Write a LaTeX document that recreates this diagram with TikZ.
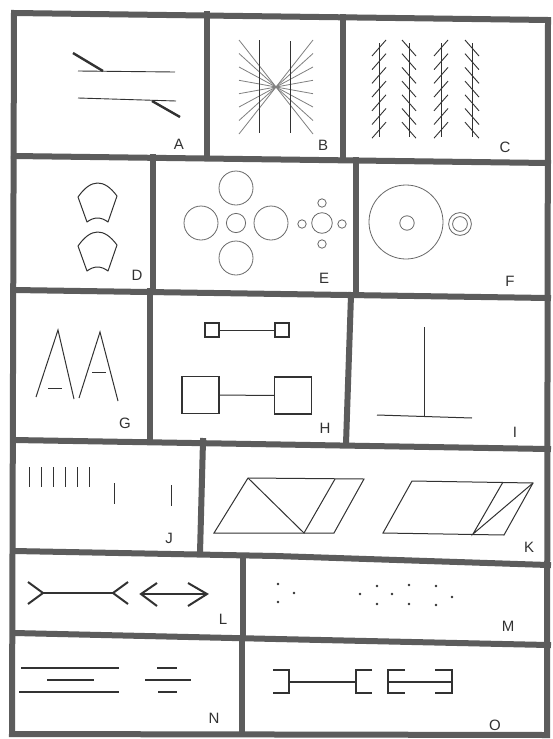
\documentclass[tikz,border=0pt]{standalone}
\usepackage{fontspec}
\setmainfont{Liberation Sans}
\usetikzlibrary{positioning}
\definecolor{FrameGray}{RGB}{92,92,92}
\definecolor{InkGray}{RGB}{50,50,50}
\definecolor{FadeGray}{RGB}{105,105,105}

\tikzset{
  frame/.style={line width=6pt,FrameGray,line cap=rect},
  ink/.style={InkGray,line width=1pt},
  fade/.style={FadeGray,line width=0.8pt},
  heavyink/.style={InkGray,line width=2pt},
  letter/.style={font=\fontsize{15}{15}\selectfont,text=InkGray,inner sep=0pt},
  sqbox/.style={draw=InkGray,line width=1.1pt,inner sep=0pt},
}

\begin{document}
\begin{tikzpicture}[x=1pt,y=-1pt]
      \useasboundingbox (0,0) rectangle (552,739);
      \fill[white] (0,0) rectangle (552,739);
      % frame and rows
      \draw[frame,line join=miter] (14,13) -- (548,20) -- (547,735) -- (12,734) -- cycle;
      \draw[frame] (14,156) -- (548,163);
      \draw[frame] (14,290) -- (548,298);
      \draw[frame] (14,440) -- (548,449);
      \draw[frame] (14,551) -- (276,556) -- (548,565);
      \draw[frame] (14,633) -- (276,639) -- (548,645);
      \draw[frame] (207,14) -- (207,157);
      \draw[frame] (343,17) -- (343,160);
      \draw[frame] (153,157) -- (153,291);
      \draw[frame] (356,160) -- (356,294);
      \draw[frame] (150,291) -- (150,441);
      \draw[frame] (351,295) -- (346,444);
      \draw[frame] (203,441) -- (200,553);
      \draw[frame] (243,556) -- (243,636);
      \draw[frame] (242,638) -- (242,734);
      % A
      \draw[ink,line width=0.9pt] (78,71) -- (175,72);
      \draw[ink,line width=0.9pt] (78,98) -- (176,101);
      \draw[InkGray,line width=2.4pt] (73,53) -- (103,71);
      \draw[InkGray,line width=2.4pt] (152,101) -- (180,117);
      \node[letter] (labA) at (179,144) {A};
      % B
      \foreach \d in {-47,-33.5,-20,-6.7,6.7,20,33.5,47}
        \draw[fade,FadeGray!85] (239,{87+\d}) -- (313,{87-\d});
      \draw[ink] (259,40) -- (259,133);
      \draw[ink] (290,41) -- (290,133);
      \node[letter] (labB) at (323,145) {B};
      % C
      \foreach \cx/\s in {379/1,409/-1,441/1,472/-1}{
        \draw[ink] (\cx,43) -- (\cx,137);
        \foreach \k in {0,...,6}
          \draw[ink,line width=0.9pt] ({\cx-7},{48+13.7*\k+8*\s}) -- ({\cx+7},{48+13.7*\k-8*\s});
      }
      \node[letter] (labC) at (505,147) {C};
      % D
      \foreach \dy in {0,49}
        \draw[ink,line join=round] (78,{197+\dy}) .. controls (91,{178.5+\dy}) and (104,{178.5+\dy}) .. (117,{196+\dy})
          -- (108,{222+\dy}) .. controls (101,{216.7+\dy}) and (94,{216.7+\dy}) .. (87,{222+\dy}) -- cycle;
      \node[letter] (labD) at (137,275) {D};
      % E
      \draw[fade] (236,223) circle (9.6pt);
      \foreach \p in {(236,188),(236,258),(201,223),(271,223)}
        \draw[fade] \p circle (17pt);
      \draw[fade] (322,223) circle (10.3pt);
      \foreach \p in {(302,224),(342,224),(322,203),(322,244)}
        \draw[fade] \p circle (4.2pt);
      \node[letter] (labE) at (324,278) {E};
      % F
      \draw[fade] (406,222) circle (37pt);
      \draw[fade] (407,223) circle (7.2pt);
      \draw[fade] (460,224) circle (11.4pt);
      \draw[fade] (460,224) circle (7.4pt);
      \node[letter] (labF) at (510,281) {F};
      % G
      \draw[ink] (36,397) -- (58,330) -- (74,399);
      \draw[ink] (48,388) -- (62,388);
      \draw[ink] (79,398) -- (100,332) -- (118,401);
      \draw[ink] (92,372) -- (106,372);
      \node[letter] (labG) at (125,423) {G};
      % H
      \node[sqbox,minimum size=14pt] (hsl) at (212,330) {};
      \node[sqbox,minimum size=14pt] (hsr) at (282,330) {};
      \node[sqbox,minimum size=37pt] (hbl) at (200.5,395) {};
      \node[sqbox,minimum size=37pt] (hbr) at (293,395.5) {};
      \draw[ink] (hsl) -- (hsr);
      \draw[ink] (hbl) -- (hbr);
      \node[letter] (labH) at (325,428) {H};
      % I
      \draw[ink] (424,327) -- (424,416);
      \draw[ink] (377,415) -- (472,418);
      \node[letter] (labI) at (515,432) {I};
      % J
      \foreach \x in {29,41,53,65,77,89}
        \draw[ink] (\x,467) -- (\x,487);
      \draw[ink] (114,483) -- (114,504);
      \draw[ink] (171,485) -- (171,506);
      \node[letter] (labJ) at (169,538) {J};
      % K
      \draw[ink,line join=miter] (248,478) -- (364,479) -- (334,533) -- (214,533) -- cycle;
      \draw[ink] (248,478) -- (304,533) -- (335,479);
      \draw[ink,line join=miter] (412,481) -- (533,483) -- (504,535) -- (383,533) -- cycle;
      \draw[ink] (503,482) -- (473,534) -- (533,483);
      \node[letter] (labK) at (529,547) {K};
      % L
      \draw[heavyink] (28,582) -- (43,593) -- (28,604);
      \draw[heavyink] (43,593) -- (113,593);
      \draw[heavyink] (128,582) -- (113,593) -- (128,604);
      \draw[heavyink] (157,583) -- (141,594) -- (157,606);
      \draw[heavyink] (141,594) -- (207,594);
      \draw[heavyink] (188,583) -- (207,594) -- (188,606);
      \node[letter] (labL) at (223,619) {L};
      % M
      \foreach \p in {(278,584),(278,602),(294,593),(360,594),(377,586),(377,604),
                      (392,594),(409,585),(409,604),(436,586),(436,605),(452,597)}
        \fill[InkGray] \p circle (1.3pt);
      \node[letter] (labM) at (508,626) {M};
      % N
      \draw[heavyink] (21,668) -- (119,668);
      \draw[heavyink] (47,680) -- (94,680);
      \draw[heavyink] (19,692) -- (119,692);
      \draw[heavyink] (157,668) -- (177,668);
      \draw[heavyink] (145,680) -- (191,680);
      \draw[heavyink] (158,692) -- (177,692);
      \node[letter] (labN) at (214,718) {N};
      % O
      \draw[ink,line width=1.6pt] (273,670) -- (289,670) -- (289,693) -- (273,693);
      \draw[ink,line width=1.3pt] (289,682) -- (356,682);
      \draw[ink,line width=1.6pt] (372,670) -- (356,670) -- (356,693) -- (372,693);
      \draw[ink,line width=1.6pt] (405,670) -- (388,670) -- (388,693) -- (405,693);
      \draw[ink,line width=1.3pt] (388,682) -- (452,682);
      \draw[ink,line width=1.6pt] (435,670) -- (452,670) -- (452,693) -- (435,693);
      \node[letter] (labO) at (495,725) {O};
\end{tikzpicture}
\end{document}
